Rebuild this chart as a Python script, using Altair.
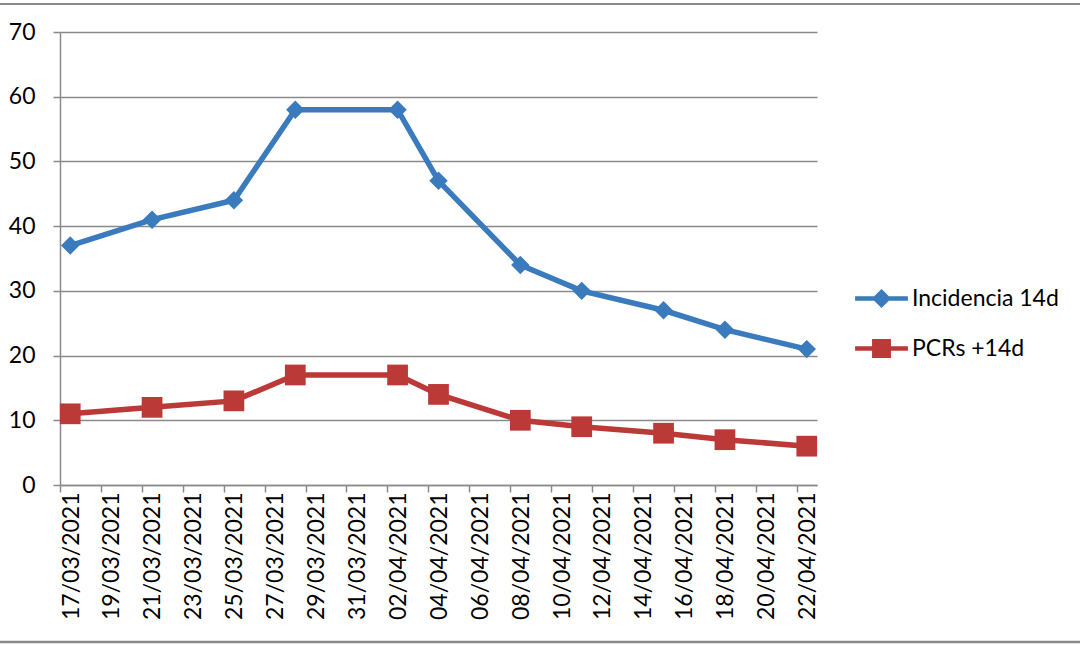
import altair as alt
import pandas as pd

# ---- data ----
dates = ["17/03/2021", "21/03/2021", "25/03/2021", "28/03/2021", "02/04/2021",
         "04/04/2021", "08/04/2021", "11/04/2021", "15/04/2021", "18/04/2021",
         "22/04/2021"]
incidencia = [37, 41, 44, 58, 58, 47, 34, 30, 27, 24, 21]
pcrs = [11, 12, 13, 17, 17, 14, 10, 9, 8, 7, 6]
series_names = ["Incidencia 14d", "PCRs +14d"]
series_colors = ["#3a7bbd", "#bb3a38"]
series_shapes = ["diamond", "square"]
series_sizes = [340, 430]
y_ticks = [0, 10, 20, 30, 40, 50, 60, 70]
axis_start = "17/03/2021"
axis_end = "23/04/2021"
tick_every_days = 2

FONT = "Lato"
GRID = "#8a8a8a"

def iso(d, hour=0):
    t = pd.to_datetime(d, format="%d/%m/%Y") + pd.Timedelta(hours=hour)
    return t.strftime("%Y-%m-%dT%H:%M:%S")

rows = []
for name, vals in zip(series_names, [incidencia, pcrs]):
    for d, v in zip(dates, vals):
        rows.append({"date": iso(d, 12), "value": v, "series": name})
df = pd.DataFrame(rows)

start = pd.to_datetime(axis_start, format="%d/%m/%Y")
end = pd.to_datetime(axis_end, format="%d/%m/%Y")
tick_vals = []
t = start
while t <= end - pd.Timedelta(days=1):
    tick_vals.append(alt.DateTime(year=t.year, month=t.month, date=t.day))
    t += pd.Timedelta(days=tick_every_days)

x_scale = alt.Scale(domain=[alt.DateTime(year=start.year, month=start.month, date=start.day),
                            alt.DateTime(year=end.year, month=end.month, date=end.day)])
y_scale = alt.Scale(domain=[0, 70], nice=False)

x_enc = alt.X("date:T", scale=x_scale,
              axis=alt.Axis(values=tick_vals, format="%d/%m/%Y", labelAngle=-90,
                            labelAlign="right", labelBaseline="middle",
                            labelOffset=11, labelPadding=0, tickSize=7,
                            tickColor=GRID, tickWidth=1.5,
                            domainColor=GRID, domainWidth=1.5,
                            labelFont=FONT, labelFontSize=23, labelColor="#000000",
                            grid=False, title=None, labelOverlap=False,
                            labelBound=False, labelFlush=False))
y_enc = alt.Y("value:Q", scale=y_scale,
              axis=alt.Axis(values=y_ticks, tickSize=7, tickColor=GRID,
                            tickWidth=1.5, domainColor=GRID, domainWidth=1.5,
                            gridColor=GRID, gridWidth=1.5, labelPadding=18,
                            labelFont=FONT, labelFontSize=23, labelColor="#000000",
                            title=None))

base = alt.Chart(df)

layers = []
for name, col in zip(series_names, series_colors):
    layers.append(
        base.transform_filter(alt.datum.series == name)
        .mark_line(strokeWidth=5.5, color=col)
        .encode(x=x_enc, y=y_enc)
    )
for name, col, shp, sz in zip(series_names, series_colors, series_shapes, series_sizes):
    layers.append(
        base.transform_filter(alt.datum.series == name)
        .mark_point(filled=True, opacity=1, color=col, shape=shp, size=sz)
        .encode(x="date:T", y="value:Q")
    )

legend_paths = [
    "M-3.3,0L3.3,0M0,-0.8L0.8,0L0,0.8L-0.8,0Z",
    "M-3.3,0L3.3,0M-0.9,-0.9L0.9,-0.9L0.9,0.9L-0.9,0.9Z",
]
legend_layer = base.transform_filter("false").mark_point(filled=True, opacity=1, strokeWidth=4).encode(
    x="date:T", y="value:Q",
    color=alt.Color("series:N", scale=alt.Scale(domain=series_names, range=series_colors),
                    legend=alt.Legend(orient="none", legendX=810, legendY=255,
                                      title=None, symbolSize=256, symbolStrokeWidth=4.5,
                                      symbolOpacity=1, labelFont=FONT, labelFontSize=23,
                                      labelColor="#000000", labelOffset=19,
                                      rowPadding=18, padding=0)),
    stroke=alt.Stroke("series:N", scale=alt.Scale(domain=series_names, range=series_colors)),
    shape=alt.Shape("series:N", scale=alt.Scale(domain=series_names, range=legend_paths)),
)
layers.append(legend_layer)

one = pd.DataFrame({"k": [0]})
layers.append(alt.Chart(one).mark_rule(color=GRID, strokeWidth=2).encode(
    x=alt.value(-60), x2=alt.value(1020), y=alt.value(-28)))
layers.append(alt.Chart(one).mark_rule(color=GRID, strokeWidth=2.5).encode(
    x=alt.value(-60), x2=alt.value(1020), y=alt.value(610)))

chart = alt.layer(*layers).properties(
    width=757, height=453,
    autosize=alt.AutoSizeParams(type="none"),
    padding={"left": 60, "top": 32, "right": 263, "bottom": 160},
    background="white",
).configure_view(stroke=None)

chart.save("out.html", embed_options={"renderer": "svg", "actions": False})
